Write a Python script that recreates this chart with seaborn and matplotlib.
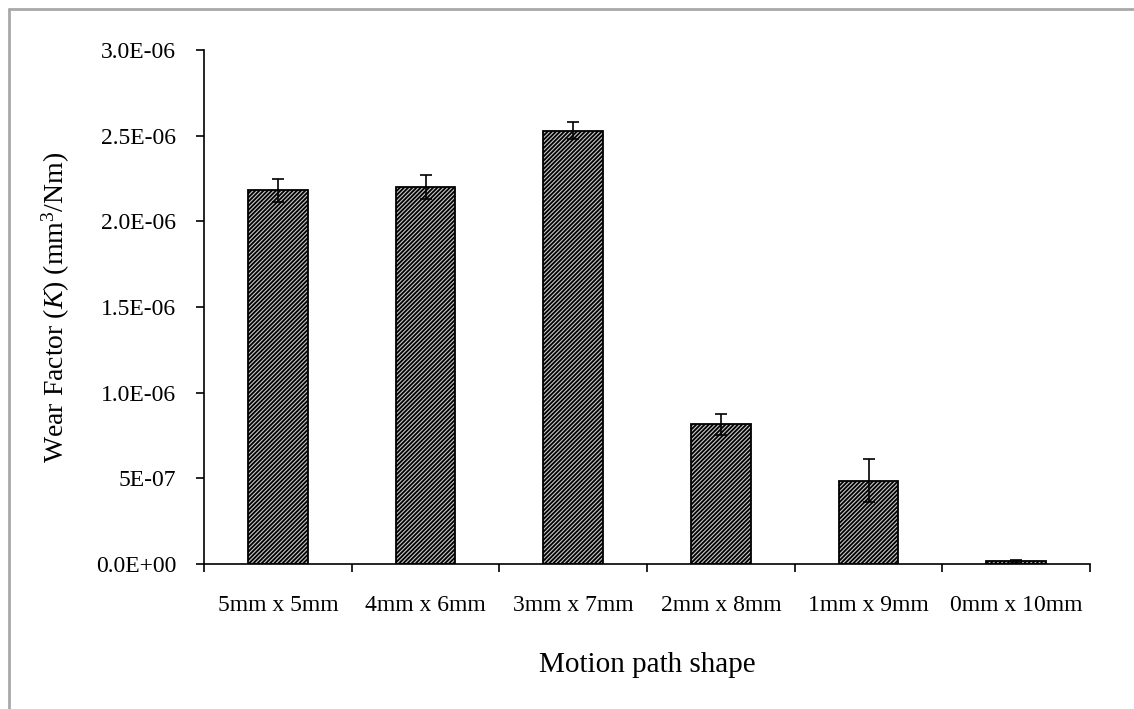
import matplotlib
matplotlib.use("Agg")
import matplotlib.pyplot as plt
import seaborn as sns
import numpy as np
import pandas as pd
from matplotlib.lines import Line2D

categories = ["5mm x 5mm", "4mm x 6mm", "3mm x 7mm", "2mm x 8mm", "1mm x 9mm", "0mm x 10mm"]
wear_factor = [2.18e-06, 2.20e-06, 2.53e-06, 0.815e-06, 0.485e-06, 0.015e-06]
wear_error = [0.07e-06, 0.07e-06, 0.05e-06, 0.06e-06, 0.125e-06, 0.008e-06]
y_ticks = [0.0, 0.5e-06, 1.0e-06, 1.5e-06, 2.0e-06, 2.5e-06, 3.0e-06]
y_tick_labels = ["0.0E+00", "5E-07", "1.0E-06", "1.5E-06", "2.0E-06", "2.5E-06", "3.0E-06"]

sns.set_theme(style="white")
plt.rcParams["font.family"] = ["Liberation Serif", "DejaVu Serif"]
plt.rcParams["mathtext.fontset"] = "custom"
plt.rcParams["mathtext.rm"] = "Liberation Serif"
plt.rcParams["mathtext.it"] = "Liberation Serif:italic"
plt.rcParams["hatch.linewidth"] = 1.3
plt.rcParams["hatch.color"] = "#262626"

df = pd.DataFrame({"shape": categories, "K": wear_factor})

fig = plt.figure(figsize=(11.34, 7.09), dpi=100)
ax = fig.add_axes([204 / 1134, 1 - 564 / 709, (1090 - 204) / 1134, (564 - 50) / 709])

sns.barplot(data=df, x="shape", y="K", ax=ax, color="white", width=0.405,
            edgecolor="black", linewidth=1.3, hatch="////////", errorbar=None)
for p in ax.patches:
    p.set_facecolor("#c8c8c8")
    p.set_hatch("////////")

ax.errorbar(np.arange(len(categories)), wear_factor, yerr=wear_error, fmt="none",
            ecolor="black", elinewidth=1.2, capsize=4, capthick=1.2, zorder=5)

ax.set_xlim(-0.5, len(categories) - 0.5)
ax.set_ylim(0, 3.0e-06)
ax.set_yticks(y_ticks)
ax.set_yticklabels(y_tick_labels)
ax.set_xticks(np.arange(len(categories)))
ax.set_xticklabels(categories)
ax.set_xticks(np.arange(-0.5, len(categories)), minor=True)

for s in ["top", "right"]:
    ax.spines[s].set_visible(False)
for s in ["left", "bottom"]:
    ax.spines[s].set_color("black")
    ax.spines[s].set_linewidth(1.2)

ax.tick_params(axis="x", which="major", length=0, pad=22, labelsize=17, colors="black")
ax.tick_params(axis="x", which="minor", length=6, width=1.2, direction="out", color="black", bottom=True)
ax.tick_params(axis="y", which="major", length=6, width=1.2, direction="out", left=True,
               pad=14, labelsize=17, colors="black")

ax.set_xlabel("Motion path shape", fontsize=21, labelpad=26, color="black")
ax.set_ylabel(r"Wear Factor ($\mathit{K}$) (mm$^3$/Nm)", fontsize=20, labelpad=17, color="black")

# outer grey frame of the chart area
fig.add_artist(Line2D([9 / 1134, 1.0], [1 - 9 / 709, 1 - 9 / 709], transform=fig.transFigure,
                      color="#a8a8a8", linewidth=2))
fig.add_artist(Line2D([9 / 1134, 9 / 1134], [0.0, 1 - 9 / 709], transform=fig.transFigure,
                      color="#a8a8a8", linewidth=2))

fig.savefig("out.png", dpi=100, facecolor="white")
